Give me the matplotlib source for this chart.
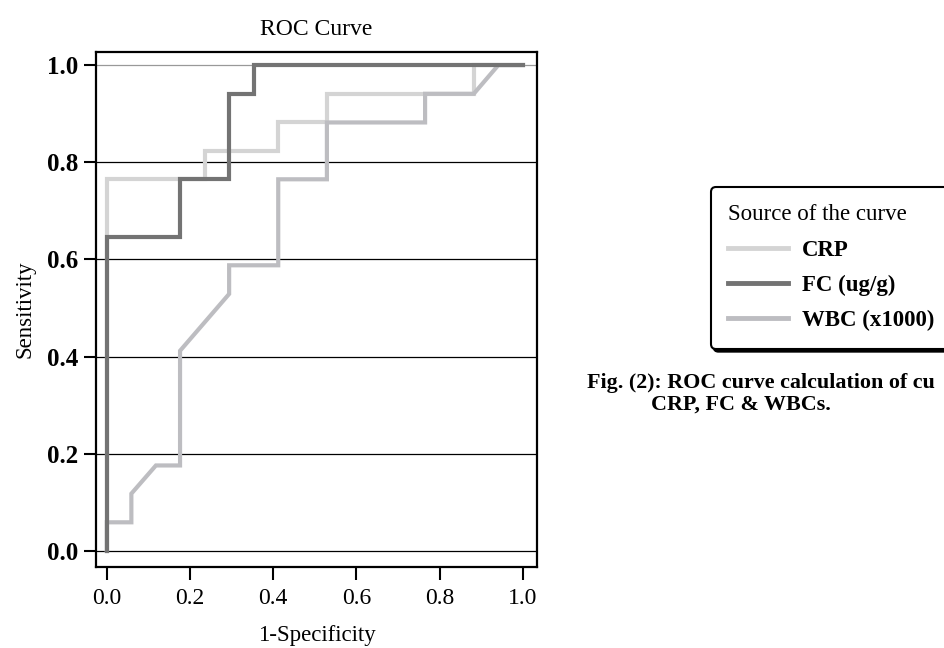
import matplotlib
matplotlib.use("Agg")
import matplotlib.pyplot as plt
from matplotlib.lines import Line2D

plt.rcParams['font.family'] = ['Liberation Serif', 'DejaVu Serif']

# ROC curve points (1-Specificity, Sensitivity)
crp_x = [0.0, 0.0, 0.235, 0.235, 0.412, 0.412, 0.529, 0.529, 0.882, 0.882, 1.0]
crp_y = [0.0, 0.765, 0.765, 0.824, 0.824, 0.882, 0.882, 0.941, 0.941, 1.0, 1.0]

fc_x = [0.0, 0.0, 0.176, 0.176, 0.294, 0.294, 0.353, 0.353, 1.0]
fc_y = [0.0, 0.647, 0.647, 0.765, 0.765, 0.941, 0.941, 1.0, 1.0]

wbc_x = [0.0, 0.0, 0.059, 0.059, 0.118, 0.176, 0.176, 0.294, 0.294, 0.412, 0.412,
         0.529, 0.529, 0.765, 0.765, 0.882, 0.941, 1.0]
wbc_y = [0.0, 0.059, 0.059, 0.118, 0.176, 0.176, 0.412, 0.529, 0.588, 0.588, 0.765,
         0.765, 0.882, 0.882, 0.941, 0.941, 1.0, 1.0]

series_names = ["CRP", "FC (ug/g)", "WBC (x1000)"]
series_colors = ["#d4d4d4", "#737373", "#bdbdc1"]
ticks = [0.0, 0.2, 0.4, 0.6, 0.8, 1.0]
tick_labels = ["0.0", "0.2", "0.4", "0.6", "0.8", "1.0"]

W, H = 945, 648
fig = plt.figure(figsize=(W / 100, H / 100), dpi=100)
ax = fig.add_axes([96 / W, 1 - 567 / H, (537 - 96) / W, (567 - 52) / H])

# horizontal reference lines
for t in ticks:
    ax.axhline(t, color="#999999" if t == 1.0 else "black", lw=0.9, zorder=1)

lw = 3.0
ax.plot(crp_x, crp_y, color=series_colors[0], lw=lw, zorder=2, solid_joinstyle="miter")
ax.plot(wbc_x, wbc_y, color=series_colors[2], lw=lw, zorder=3, solid_joinstyle="miter")
ax.plot(fc_x, fc_y, color=series_colors[1], lw=lw, zorder=4, solid_joinstyle="miter")

ax.set_xlim(-0.026, 1.034)
ax.set_ylim(-0.033, 1.027)
ax.set_xticks(ticks)
ax.set_xticklabels(tick_labels, fontsize=17)
ax.set_yticks(ticks)
ax.set_yticklabels(tick_labels, fontsize=18, fontweight="bold")
ax.tick_params(axis="both", direction="out", length=9, width=1.5, pad=4, color="black")
ax.tick_params(axis="x", pad=6)
for s in ax.spines.values():
    s.set_linewidth(1.6)
    s.set_color("black")

ax.set_title("ROC Curve", fontsize=17, pad=12)
ax.set_xlabel("1-Specificity", fontsize=16.5, labelpad=12)
ax.set_ylabel("Sensitivity", fontsize=16.5, labelpad=8)

handles = [Line2D([], [], color=c, lw=3.5) for c in series_colors]
leg = fig.legend(handles, series_names, title="Source of the curve",
                 loc="upper left", bbox_to_anchor=(711 / W, 1 - 187 / H),
                 borderaxespad=0.0,
                 prop={"size": 16.5, "weight": "bold"}, title_fontsize=16.5,
                 fancybox=True, shadow={"color": "black", "alpha": 1.0, "ox": 2, "oy": -2},
                 frameon=True, handlelength=2.6, handletextpad=0.6,
                 labelspacing=0.62, borderpad=0.76, alignment="left")
leg.get_frame().set_edgecolor("black")
leg.get_frame().set_linewidth(1.5)
leg.get_frame().set_facecolor("white")

fig.text(587 / W, 1 - 383 / H, "Fig. (2): ROC curve calculation of cu",
         fontsize=15.8, fontweight="bold", ha="left", va="center")
fig.text(741 / W, 1 - 405 / H, "CRP, FC & WBCs.",
         fontsize=15.8, fontweight="bold", ha="center", va="center")

fig.savefig("out.png", dpi=100)
